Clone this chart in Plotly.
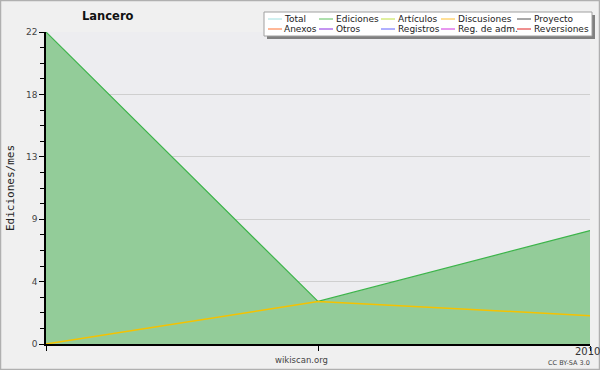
import plotly.graph_objects as go

# ---- data ----
x_vals = [0, 1, 2]
x_tick_text = ["", "", "2010"]
ediciones = [22, 3, 8]
discusiones = [0, 3, 2]
y_tickvals = [0, 4.4, 8.8, 13.2, 17.6, 22]
y_ticktext = ["0", "4", "9", "13", "18", "22"]

legend_names = ["Total", "Ediciones", "Artículos", "Discusiones", "Proyecto",
                "Anexos", "Otros", "Registros", "Reg. de adm.", "Reversiones"]
legend_colors = ["#a0e0e0", "#5cc05c", "#c0e040", "#ffc030", "#505050",
                 "#ff7030", "#8a2be2", "#6060ff", "#d030e0", "#e02020"]

W, H = 600, 370
L, R, T, B = 46, 10, 32, 26
PW, PH = W - L - R, H - T - B

def px(xp):
    return (xp - L) / PW

def py(yp):
    return (H - B - yp) / PH

fig = go.Figure()
fig.add_trace(go.Scatter(x=x_vals, y=ediciones, mode="lines", fill="tozeroy",
                         fillcolor="rgba(147,204,153,1)",
                         line=dict(color="#3cb44a", width=1.2),
                         name="Ediciones", showlegend=False))
fig.add_trace(go.Scatter(x=x_vals, y=discusiones, mode="lines",
                         line=dict(color="#f5c200", width=1.5),
                         name="Discusiones", showlegend=False))

shapes = []
annotations = []

# legend box with shadow
bx0, bx1, by0, by1 = 264, 592, 12, 36
shapes.append(dict(type="rect", xref="paper", yref="paper",
                   x0=px(bx0 + 3), x1=px(bx1 + 3), y0=py(by1 + 3), y1=py(by0 + 3),
                   fillcolor="#808080", line=dict(width=0), layer="above"))
shapes.append(dict(type="rect", xref="paper", yref="paper",
                   x0=px(bx0), x1=px(bx1), y0=py(by1), y1=py(by0),
                   fillcolor="white", line=dict(color="#a0a0a0", width=1), layer="above"))
col_line_x = [268, 319, 381, 441, 517]
col_text_x = [283, 335, 397, 457, 533]
row_y = [19, 29]
for i, (name, color) in enumerate(zip(legend_names, legend_colors)):
    r, c = divmod(i, 5)
    lx = col_line_x[c]
    yy = row_y[r]
    shapes.append(dict(type="line", xref="paper", yref="paper",
                       x0=px(lx), x1=px(lx + 14), y0=py(yy), y1=py(yy),
                       line=dict(color=color, width=1), layer="above"))
    annotations.append(dict(text=name, xref="paper", yref="paper",
                            x=px(col_text_x[c]), y=py(yy), xanchor="left", yanchor="middle",
                            showarrow=False, font=dict(size=9, color="#222"),
                            borderpad=0))

annotations.append(dict(text="<b>Lancero</b>", xref="paper", yref="paper",
                        x=px(108), y=py(16), xanchor="center", yanchor="middle",
                        showarrow=False, font=dict(size=11.5, color="#111")))
annotations.append(dict(text="wikiscan.org", xref="paper", yref="paper",
                        x=px(301), y=py(360), xanchor="center", yanchor="middle",
                        showarrow=False, font=dict(size=8.5, color="#444")))
annotations.append(dict(text="CC BY-SA 3.0", xref="paper", yref="paper",
                        x=px(569), y=py(362.5), xanchor="center", yanchor="middle",
                        showarrow=False, font=dict(size=6.5, color="#444")))
# year label at the last x position
annotations.append(dict(text=x_tick_text[-1], xref="x", yref="paper",
                        x=x_vals[-1], y=py(351), xanchor="center", yanchor="middle",
                        xshift=-3, borderpad=0,
                        showarrow=False, font=dict(size=10, color="#333")))

# outer border
shapes.append(dict(type="rect", xref="paper", yref="paper",
                   x0=px(0.5), x1=px(W - 0.5), y0=py(H - 0.5), y1=py(0.5),
                   line=dict(color="#b0b0b0", width=1.5), layer="below"))

fig.update_layout(
    width=W, height=H,
    margin=dict(l=L, r=R, t=T, b=B, pad=0, autoexpand=False),
    paper_bgcolor="#f0f0f0",
    plot_bgcolor="#ededf0",
    font=dict(family="DejaVu Sans", size=10, color="#333"),
    shapes=shapes, annotations=annotations,
    showlegend=False,
    xaxis=dict(range=[0, 2], tickvals=x_vals, ticktext=["", "", ""],
               automargin=False,
               showline=True, linecolor="black", linewidth=1.5,
               ticks="outside", ticklen=5, tickcolor="black",
               showgrid=False, zeroline=False,
               tickfont=dict(size=9.5, color="#444")),
    yaxis=dict(range=[0, 22], tickvals=y_tickvals, ticktext=y_ticktext,
               automargin=False,
               showline=True, linecolor="black", linewidth=1.5,
               ticks="outside", ticklen=5, tickcolor="black",
               showgrid=True, gridcolor="#cfcfcf", gridwidth=1, zeroline=False,
               tickfont=dict(size=9, color="#444"),
               minor=dict(tick0=0, dtick=1.1, ticks="outside", ticklen=4,
                          tickcolor="black", showgrid=False),
               title=dict(text="Ediciones/mes",
                          font=dict(family="DejaVu Sans Mono", size=11, color="#222"),
                          standoff=9)),
)

fig.write_html("out.html", config={"displayModeBar": False},
               post_script="document.body.style.margin='0';document.body.style.overflow='hidden';")
